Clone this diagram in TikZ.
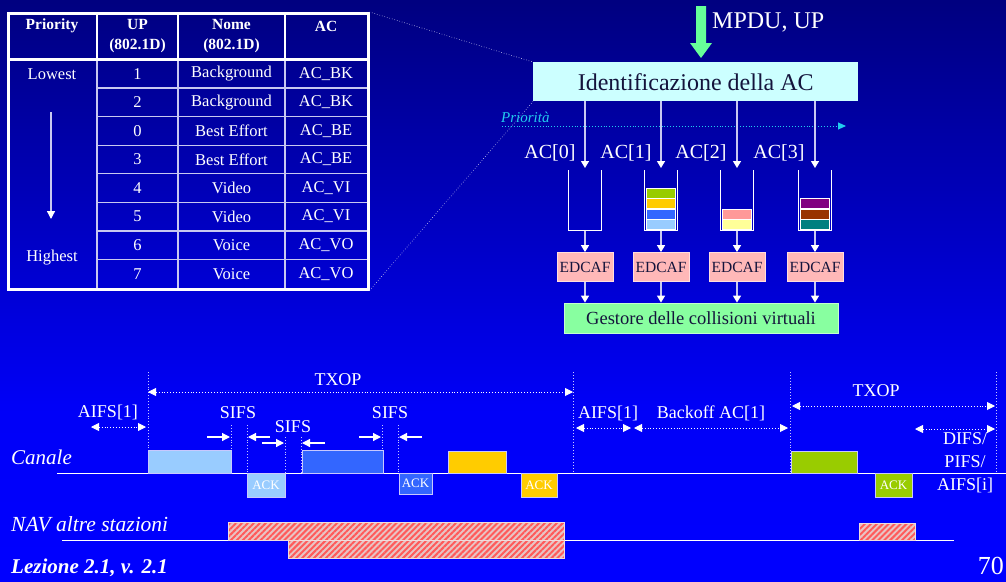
\documentclass[tikz,border=0pt]{standalone}
\usepackage{fontspec}
\setmainfont{Liberation Serif}
\usetikzlibrary{arrows.meta,patterns.meta}
\pgfdeclareverticalshading{bgshade}{100bp}{rgb(0bp)=(0,0,1); rgb(25bp)=(0,0,1); rgb(40bp)=(0,0,0.97); rgb(75bp)=(0,0,0.5); rgb(100bp)=(0,0,0.5)}
\definecolor{lav}{HTML}{C8C8F0}
\definecolor{darktxt}{HTML}{14143C}
\definecolor{identfill}{HTML}{CCFFFF}
\definecolor{mpdugreen}{HTML}{66FF99}
\definecolor{prio}{HTML}{22CCEE}
\definecolor{edfill}{HTML}{FFB8B8}
\definecolor{edline}{HTML}{FFDDDD}
\definecolor{gestfill}{HTML}{88FFA0}
\definecolor{pkgreen}{HTML}{99CC00}
\definecolor{pkorange}{HTML}{FFCC00}
\definecolor{pkblue}{HTML}{3366FF}
\definecolor{pklblue}{HTML}{99CCFF}
\definecolor{pkpink}{HTML}{FF9999}
\definecolor{pkyellow}{HTML}{FFFF99}
\definecolor{pkpurple}{HTML}{800080}
\definecolor{pkbrown}{HTML}{993300}
\definecolor{pkteal}{HTML}{008080}
\definecolor{navred}{HTML}{FF5A5A}
\definecolor{navpink}{HTML}{E8C4C4}
\definecolor{guide}{HTML}{C8C8FF}
\begin{document}
\begin{tikzpicture}[x=1pt,y=-1pt,
  txt/.style={inner sep=0pt, text=white},
  tabb/.style={txt, font=\fontsize{16.5}{19}\selectfont},
  tabh/.style={txt, font=\bfseries\fontsize{15.5}{20}\selectfont, align=center},
  flow/.style={draw=lav, line width=1.4pt, -{Triangle[length=7pt,width=8pt,color=white]}},
  zoomline/.style={draw=lav, dotted, line width=0.6pt},
  qbox/.style={draw=white, line width=1.2pt},
  pk/.style={draw=white, line width=0.8pt, minimum width=29pt, minimum height=9.6pt, inner sep=0pt},
  edcaf/.style={fill=edfill, draw=edline, line width=0.8pt, minimum width=56pt, minimum height=29pt, inner sep=0pt, text=darktxt, font=\fontsize{15.5}{18}\selectfont},
  tl/.style={draw=white, line width=1pt},
  vguide/.style={draw=guide, dotted, line width=0.9pt},
  dimarr/.style={draw=white, dotted, line width=0.9pt, {Triangle[length=8pt,width=8pt]}-{Triangle[length=8pt,width=8pt]}},
  sifarr/.style={draw=white, line width=1.2pt, -{Triangle[length=8pt,width=8pt]}},
  lbl/.style={txt, font=\fontsize{18}{21}\selectfont},
  pkt/.style={draw=guide, line width=1pt, inner sep=0pt},
  ack/.style={pkt, text=white, font=\fontsize{13}{15}\selectfont},
  nav/.style={draw=navpink!60!white, line width=0.6pt, inner sep=0pt, preaction={fill=navpink}, pattern={Lines[angle=45,distance=4.2pt,line width=2pt]}, pattern color=navred}
]
\useasboundingbox (0,0) rectangle (1006,581);
\shade[shading=bgshade] (0,0) rectangle (1006,581);
\clip (0,0) rectangle (1006,581);

% ---------------- table ----------------
\node[draw=white, line width=2.5pt, minimum width=360pt, minimum height=276pt, inner sep=0pt, anchor=north west] (tbl) at (7,12) {};
\foreach \x in {97,178,285} {
  \draw[white, line width=2pt] (\x,12) -- (\x,59.5);
  \draw[lav, line width=1.5pt] (\x,59.5) -- (\x,288);
}
\draw[white, line width=2.5pt] (7,59.5) -- (367,59.5);
\foreach \y in {88,116.6,145.2,173.7,202.3,230.9,259.4}
  \draw[lav, line width=1.3pt] (97,\y) -- (367,\y);
\node[tabh] (hprio) at (52,26) {Priority};
\node[tabh] (hup) at (137.5,36) {UP\\(802.1D)};
\node[tabh] (hnome) at (231.5,36) {Nome\\(802.1D)};
\node[tabh] (hac) at (326,26) {AC};
\foreach \u/\n/\a [count=\i, evaluate=\i as \yy using 59.5+(\i-0.5)*28.56] in
  {1/Background/AC\_BK, 2/Background/AC\_BK, 0/Best Effort/AC\_BE, 3/Best Effort/AC\_BE,
   4/Video/AC\_VI, 5/Video/AC\_VI, 6/Voice/AC\_VO, 7/Voice/AC\_VO} {
  \node[tabb] (u\i) at (137.5,\yy) {\u};
  \node[tabb] (n\i) at (231.5,\yy) {\n};
  \node[tabb] (a\i) at (326,\yy) {\a};
}
\node[tabb] (lowest) at (52,74) {Lowest};
\node[tabb] (highest) at (52,258) {Highest};
\coordinate (pa) at (51,112);
\coordinate (pb) at (51,219);
\draw[lav, line width=1.3pt, -{Triangle[length=8pt,width=8pt,color=white]}] (pa) -- (pb);

% ---------------- top right ----------------
\node[fill=identfill, minimum width=325pt, minimum height=39pt, inner sep=0pt, anchor=north west,
      text=darktxt, font=\fontsize{24}{28}\selectfont] (ident) at (533,62) {Identificazione della AC};
\draw[zoomline] (tbl.north east) -- (ident.north west);
\draw[zoomline] (tbl.south east) -- (ident.south west);

\fill[mpdugreen] (696,6) -- (706,6) -- (706,43) -- (712,43) -- (701,58) -- (690,43) -- (696,43) -- cycle;
\node[txt, anchor=west, font=\fontsize{24}{28}\selectfont] (mpdu) at (712,22) {MPDU, UP};

\node[txt, text=prio, anchor=west, font=\itshape\fontsize{15}{18}\selectfont] (priot) at (501,117) {Priorità};
\coordinate (ps) at (502,126);
\coordinate (pe) at (846,126);
\draw[prio, dotted, line width=0.9pt, -{Triangle[length=8pt,width=7pt]}] (ps) -- (pe);

\foreach \x/\l [count=\i from 0] in {585/550, 661/626, 737/701, 815/779} {
  \coordinate (qa\i) at (\x,168);
  \coordinate (qb\i) at (\x,230.5);
  \draw[flow] (ident.south -| qa\i) -- (qa\i);
  \node[txt, font=\fontsize{20}{24}\selectfont] (acl\i) at (\l,153) {AC[\i]};
  \draw[qbox] (\x-16.5,170) -- (\x-16.5,230.5) -- (\x+16.5,230.5) -- (\x+16.5,170);
  \node[edcaf] (e\i) at (\x,267) {EDCAF};
  \draw[flow] (qb\i) -- (e\i.north);
}
\node[pk, fill=pklblue] (k14) at (661,224.6) {};
\node[pk, fill=pkblue] (k13) at (661,214.1) {};
\node[pk, fill=pkorange] (k12) at (661,203.6) {};
\node[pk, fill=pkgreen] (k11) at (661,193.1) {};
\node[pk, fill=pkyellow] (k22) at (737,224.6) {};
\node[pk, fill=pkpink] (k21) at (737,214.1) {};
\node[pk, fill=pkteal] (k33) at (815,224.6) {};
\node[pk, fill=pkbrown] (k32) at (815,214.1) {};
\node[pk, fill=pkpurple] (k31) at (815,203.6) {};

\node[fill=gestfill, draw=gestfill!50!white, line width=0.8pt, minimum width=274pt, minimum height=30pt, inner sep=0pt,
      text=darktxt, font=\fontsize{18.5}{21}\selectfont] (gest) at (701,318) {Gestore delle collisioni virtuali};
\foreach \i in {0,...,3}
  \draw[flow] (e\i.south) -- (gest.north -| e\i.south);

% ---------------- timeline ----------------
\coordinate (cs) at (57,473);
\coordinate (ce) at (1006,473);
\coordinate (ns) at (62,540);
\coordinate (ne) at (954,540);

\foreach \x/\yt [count=\i] in {148/372, 231/425, 247/425, 285/437, 301/437, 382/425, 398/425, 573/372, 790/372, 996/372} {
  \coordinate (gt\i) at (\x,\yt);
  \coordinate (gb\i) at (\x,473);
  \draw[vguide] (gt\i) -- (gb\i);
}

\draw[tl] (cs) -- (ce);
\draw[tl] (ns) -- (ne);

\node[pkt, fill=pklblue, minimum width=83pt, minimum height=23pt] (p1) at (189.5,461.5) {};
\node[ack, fill=pklblue, minimum width=38pt, minimum height=24pt] (ack1) at (266,485) {ACK};
\node[pkt, fill=pkblue, minimum width=81pt, minimum height=23pt] (p2) at (342.5,461.5) {};
\node[ack, fill=pkblue, minimum width=33pt, minimum height=21pt] (ack2) at (415.5,483.5) {ACK};
\node[pkt, fill=pkorange, minimum width=58pt, minimum height=22pt] (p3) at (477,462) {};
\node[ack, fill=pkorange, minimum width=36pt, minimum height=24pt] (ack3) at (539,485) {ACK};
\node[pkt, fill=pkgreen, minimum width=66pt, minimum height=22pt] (p4) at (824,462) {};
\node[ack, fill=pkgreen, minimum width=37pt, minimum height=24pt] (ack4) at (893.5,485) {ACK};

\node[nav, minimum width=336pt, minimum height=18pt] (nav1) at (396,531) {};
\node[nav, minimum width=276pt, minimum height=18pt] (nav2) at (426,549) {};
\node[nav, minimum width=56pt, minimum height=17pt] (nav3) at (887,531.5) {};

% dimension arrows
\coordinate (t1a) at (148,392); \coordinate (t1b) at (573,392);
\draw[dimarr] (t1a) -- (t1b);
\node[lbl] (txop1) at (338,380) {TXOP};
\coordinate (ai1a) at (91,427); \coordinate (ai1b) at (146,427);
\draw[dimarr] (ai1a) -- (ai1b);
\node[lbl] (aifs1) at (108,412) {AIFS[1]};

\coordinate (s1a) at (207,437); \coordinate (s1b) at (230,437);
\coordinate (s1c) at (270,437); \coordinate (s1d) at (248,437);
\draw[sifarr] (s1a) -- (s1b);
\draw[sifarr] (s1c) -- (s1d);
\node[lbl] (sifs1) at (238,413) {SIFS};
\coordinate (s2a) at (262,443); \coordinate (s2b) at (284,443);
\coordinate (s2c) at (325,443); \coordinate (s2d) at (302,443);
\draw[sifarr] (s2a) -- (s2b);
\draw[sifarr] (s2c) -- (s2d);
\node[lbl] (sifs2) at (293,427) {SIFS};
\coordinate (s3a) at (359,437); \coordinate (s3b) at (381,437);
\coordinate (s3c) at (422,437); \coordinate (s3d) at (399,437);
\draw[sifarr] (s3a) -- (s3b);
\draw[sifarr] (s3c) -- (s3d);
\node[lbl] (sifs3) at (390,413) {SIFS};

\coordinate (ai2a) at (576,428); \coordinate (ai2b) at (631,428);
\draw[dimarr] (ai2a) -- (ai2b);
\node[lbl] (aifs2) at (608,413) {AIFS[1]};
\coordinate (boa) at (634,428); \coordinate (bob) at (788,428);
\draw[dimarr] (boa) -- (bob);
\node[lbl] (backoff) at (711,413) {Backoff AC[1]};
\coordinate (t2a) at (792,406); \coordinate (t2b) at (995,406);
\draw[dimarr] (t2a) -- (t2b);
\node[lbl] (txop2) at (876,391) {TXOP};
\coordinate (da) at (915,429); \coordinate (db) at (995,429);
\draw[dimarr] (da) -- (db);
\node[lbl, align=center, font=\fontsize{18}{23}\selectfont] (difs) at (965,463) {DIFS/\\PIFS/\\AIFS[i]};

\node[txt, anchor=west, font=\itshape\fontsize{21}{24}\selectfont] (canale) at (11,457) {Canale};
\node[txt, anchor=west, font=\itshape\fontsize{21.5}{24}\selectfont] (navl) at (11,524) {NAV altre stazioni};
\node[txt, anchor=west, font=\bfseries\itshape\fontsize{21}{24}\selectfont] (lez) at (11,568) {Lezione 2.1, v. 2.1};
\node[txt, anchor=east, font=\fontsize{26}{30}\selectfont] (pg) at (1004,566) {70};
\end{tikzpicture}
\end{document}
